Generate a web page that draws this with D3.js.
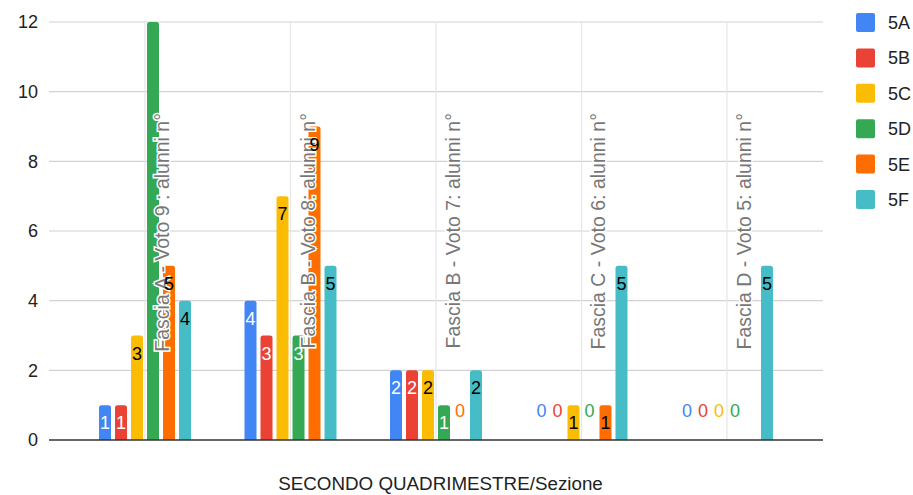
<!DOCTYPE html>
<html>
<head>
<meta charset="utf-8">
<script src="https://cdn.jsdelivr.net/npm/d3@7"></script>
<style>
  body { margin: 0; background: #fff; }
  svg { display: block; font-family: "Liberation Sans", Arial, sans-serif; }
</style>
</head>
<body>
<div id="chart"></div>
<script>
const width = 913;
const height = 495;

// data
const categories = [
  "Fascia A - Voto 9 : alunni n°",
  "Fascia B - Voto 8: alunni n°",
  "Fascia B - Voto 7: alunni n°",
  "Fascia C - Voto 6: alunni n°",
  "Fascia D - Voto 5: alunni n°"
];
const seriesNames = ["5A", "5B", "5C", "5D", "5E", "5F"];
const values5A = [1, 4, 2, 0, 0];
const values5B = [1, 3, 2, 0, 0];
const values5C = [3, 7, 2, 1, 0];
const values5D = [12, 3, 1, 0, 0];
const values5E = [5, 9, 0, 1, null];
const values5F = [4, 5, 2, 5, 5];
const yTicks = [0, 2, 4, 6, 8, 10, 12];

const colors = ["#4285f4", "#ea4335", "#fbbc04", "#34a853", "#ff6d01", "#46bdc6"];
const labelColors = ["#fff", "#fff", "#000", "#fff", "#000", "#000"];

const allSeries = [values5A, values5B, values5C, values5D, values5E, values5F];

const margin = {left: 49, right: 90, top: 22, bottom: 55};
const plotRight = width - margin.right; // 823
const plotBottom = height - margin.bottom; // 440

const svg = d3.select("#chart").append("svg")
    .attr("width", width)
    .attr("height", height);

const x0 = d3.scaleBand()
    .domain(categories)
    .range([margin.left, plotRight])
    .paddingInner(0)
    .paddingOuter(0.16);

const x1 = d3.scaleBand()
    .domain(seriesNames)
    .range([-48, 48])
    .paddingInner(0.25)
    .paddingOuter(0.125);

const y = d3.scaleLinear()
    .domain([0, 12])
    .range([plotBottom, margin.top]);

const center = c => x0(c) + x0.bandwidth() / 2;

// horizontal gridlines
svg.append("g")
    .selectAll("line")
    .data(yTicks.filter(t => t > 0))
    .join("line")
    .attr("x1", margin.left)
    .attr("x2", plotRight)
    .attr("y1", d => y(d))
    .attr("y2", d => y(d))
    .attr("stroke", "#d2d2d2")
    .attr("stroke-width", 1.2);

// vertical lines at the category centres
svg.append("g")
    .selectAll("line")
    .data(categories)
    .join("line")
    .attr("x1", d => center(d))
    .attr("x2", d => center(d))
    .attr("y1", y(12))
    .attr("y2", plotBottom)
    .attr("stroke", "#e6e6e6")
    .attr("stroke-width", 1.2);

// y axis labels
const yAxis = d3.axisLeft(y)
    .tickValues(yTicks)
    .tickSize(0)
    .tickPadding(11);

svg.append("g")
    .attr("transform", `translate(${margin.left},0)`)
    .call(yAxis)
    .call(g => g.select(".domain").remove())
    .selectAll("text")
    .attr("font-family", "Liberation Sans, Arial, sans-serif")
    .attr("font-size", 18)
    .attr("fill", "#222");

// flatten bar data
const bars = [];
categories.forEach((c, i) => {
  seriesNames.forEach((s, j) => {
    const v = allSeries[j][i];
    if (v !== null) bars.push({cat: c, series: s, idx: j, value: v});
  });
});

function barPath(d) {
  const x = center(d.cat) + x1(d.series);
  const w = x1.bandwidth();
  const top = y(d.value);
  const bot = y(0);
  const r = Math.min(2.5, (bot - top) / 2);
  return `M${x},${bot}V${top + r}Q${x},${top} ${x + r},${top}H${x + w - r}Q${x + w},${top} ${x + w},${top + r}V${bot}Z`;
}

svg.append("g")
    .selectAll("path")
    .data(bars.filter(d => d.value > 0))
    .join("path")
    .attr("d", barPath)
    .attr("fill", d => colors[d.idx]);

// zero line
svg.append("line")
    .attr("x1", margin.left)
    .attr("x2", plotRight)
    .attr("y1", y(0))
    .attr("y2", y(0))
    .attr("stroke", "#333")
    .attr("stroke-width", 1.6);

// category labels, rotated, inside the plot
svg.append("g")
    .selectAll("text")
    .data(categories)
    .join("text")
    .attr("transform", d => `translate(${center(d) + 24},113) rotate(-90)`)
    .attr("text-anchor", "end")
    .attr("font-size", 19.5)
    .attr("fill", "#777")
    .attr("stroke", "#fff")
    .attr("stroke-width", 3)
    .attr("paint-order", "stroke")
    .text(d => d);

// value labels (skipped when wider than the bar)
svg.append("g")
    .selectAll("text")
    .data(bars.filter(d => d.value < 10))
    .join("text")
    .attr("x", d => center(d.cat) + x1(d.series) + x1.bandwidth() / 2)
    .attr("y", d => d.value > 0 ? y(d.value) + 24 : y(0) - 23)
    .attr("text-anchor", "middle")
    .attr("font-size", 18)
    .attr("fill", d => d.value > 0 ? labelColors[d.idx] : colors[d.idx])
    .text(d => d.value);

// x axis title
svg.append("text")
    .attr("x", 440.5)
    .attr("y", 490)
    .attr("text-anchor", "middle")
    .attr("font-size", 18.8)
    .attr("fill", "#222")
    .text("SECONDO QUADRIMESTRE/Sezione");

// legend
const legend = svg.append("g")
    .selectAll("g")
    .data(seriesNames)
    .join("g")
    .attr("transform", (d, i) => `translate(856,${22.5 + i * 35.4})`);

legend.append("rect")
    .attr("x", 0)
    .attr("y", -9.5)
    .attr("width", 19)
    .attr("height", 19)
    .attr("rx", 2)
    .attr("fill", (d, i) => colors[i]);

legend.append("text")
    .attr("x", 32)
    .attr("y", 6.5)
    .attr("font-size", 18)
    .attr("fill", "#222")
    .text(d => d);
</script>
</body>
</html>
